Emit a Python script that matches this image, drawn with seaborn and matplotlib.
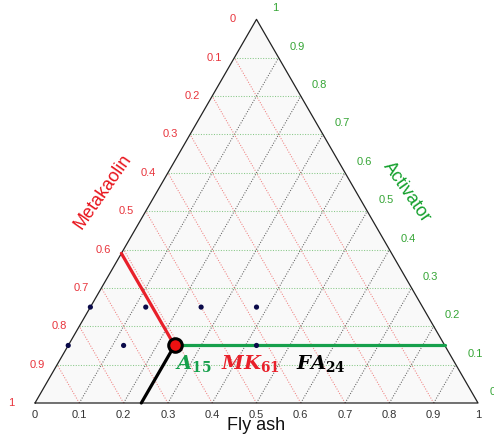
import numpy as np
import pandas as pd
import matplotlib
matplotlib.use("Agg")
import matplotlib.pyplot as plt
import seaborn as sns

# ---- data ----
ticks = [0.0, 0.1, 0.2, 0.3, 0.4, 0.5, 0.6, 0.7, 0.8, 0.9, 1.0]
tick_labels = ["0", "0.1", "0.2", "0.3", "0.4", "0.5", "0.6", "0.7", "0.8", "0.9", "1"]
pts_flyash = [0.0, 0.125, 0.25, 0.375, 0.0, 0.125, 0.425]
pts_activator = [0.25, 0.25, 0.25, 0.25, 0.15, 0.15, 0.15]
mix_flyash = 0.24
mix_activator = 0.15
mix_metakaolin = 0.61
mix_labels = [r"$A_{15}$", r"$MK_{61}$", r"$FA_{24}$"]

RED = "#e8202a"
GREEN = "#16a04c"
TRED = "#e8343c"
TGREEN = "#35a535"

sns.set_style("white")
plt.rcParams["font.family"] = ["Liberation Sans", "DejaVu Sans"]
plt.rcParams["mathtext.fontset"] = "custom"
plt.rcParams["mathtext.it"] = "DejaVu Serif:italic:bold"
plt.rcParams["mathtext.rm"] = "DejaVu Serif:bold"
plt.rcParams["mathtext.bf"] = "DejaVu Serif:bold"

H = np.sqrt(3) / 2


def tern(fa, a):
    fa = np.asarray(fa, dtype=float)
    a = np.asarray(a, dtype=float)
    return fa + a / 2, a * H


fig = plt.figure(figsize=(4.94, 4.41), dpi=100)
ax = fig.add_axes([0, 0, 1, 1])
ax.set_xlim(-35 / 443, 459 / 443)
ax.set_ylim(-38 / 443, 403 / 443)
ax.axis("off")

# triangle background + outline
ax.fill([0, 1, 0.5], [0, 0, H], color="#f9f9f9", zorder=0, lw=0)
ax.plot([0, 1, 0.5, 0], [0, 0, H, 0], color="#222222", lw=0.9, zorder=3)

# grid
for c in ticks[1:-1]:
    # activator constant (horizontal)
    x, y = tern([0, 1 - c], [c, c])
    ax.plot(x, y, color="#88c888", lw=0.75, ls=(0, (1, 1.5)), zorder=1)
    # metakaolin constant: FA + A = 1 - c
    x, y = tern([1 - c, 0], [0, 1 - c])
    ax.plot(x, y, color="#f08080", lw=0.75, ls=(0, (1, 1.5)), zorder=1)
    # fly ash constant
    x, y = tern([c, c], [0, 1 - c])
    ax.plot(x, y, color="#606060", lw=0.75, ls=(0, (1, 1.5)), zorder=1)

# tick labels
px = 1 / 443
for c, lab in zip(ticks, tick_labels):
    # fly ash (bottom)
    x, y = tern(c, 0)
    ax.text(x, y - 12 * px, lab, color="#333333", fontsize=8, ha="center", va="center")
    # metakaolin (left): FA = 0, A = 1 - c
    x, y = tern(0, 1 - c)
    off = 24 if c in (0.0, 1.0) else 20
    ax.text(x - off * px, y, lab, color=TRED, fontsize=8, ha="center", va="center")
    # activator (right): FA = 1 - c, A = c
    x, y = tern(1 - c, c)
    offx = 15 if c == 0.0 else 19
    ax.text(x + offx * px, y + 11 * px, lab, color=TGREEN, fontsize=8, ha="center", va="center")

# axis titles
ax.text((103 - 35) * px, (403 - 192) * px, "Metakaolin", color="#e8141c", fontsize=13,
        rotation=55, ha="center", va="center", rotation_mode="anchor")
ax.text((407 - 35) * px, (403 - 192) * px, "Activator", color="#13a02c", fontsize=13,
        rotation=-55, ha="center", va="center", rotation_mode="anchor")
ax.text(0.5, -23 * px, "Fly ash", color="#111111", fontsize=13, ha="center", va="center")

# data points
xs, ys = tern(pts_flyash, pts_activator)
df = pd.DataFrame({"x": xs, "y": ys})
sns.scatterplot(data=df, x="x", y="y", color="#0a0a4a", s=14, edgecolor="none",
                ax=ax, zorder=6, legend=False)

# composition guide lines
mx, my = tern(mix_flyash, mix_activator)
ex, ey = tern(0, mix_flyash + mix_activator)  # metakaolin constant to left edge
sns.lineplot(x=[mx, ex], y=[my, ey], sort=False, color=RED, lw=2.3, ax=ax, zorder=5)
ex, ey = tern(1 - mix_activator, mix_activator)  # activator constant to right edge
sns.lineplot(x=[mx, ex], y=[my, ey], sort=False, color=GREEN, lw=2.3, ax=ax, zorder=5)
ex, ey = tern(mix_flyash, 0)  # fly ash constant to bottom
sns.lineplot(x=[mx, ex], y=[my, ey], sort=False, color="#000000", lw=2.3, ax=ax, zorder=5)

mdf = pd.DataFrame({"x": [mx], "y": [my]})
sns.scatterplot(data=mdf, x="x", y="y", color="#ee1111", s=95, edgecolor="black",
                linewidth=2.2, ax=ax, zorder=8, legend=False)

# labels
base_y = (403 - 369) * px
ax.text((175 - 35) * px, base_y, mix_labels[0], color=GREEN, fontsize=14, ha="left", va="baseline", zorder=9)
ax.text((221 - 35) * px, base_y, mix_labels[1], color=RED, fontsize=14, ha="left", va="baseline", zorder=9)
ax.text((296 - 35) * px, base_y, mix_labels[2], color="#000000", fontsize=14, ha="left", va="baseline", zorder=9)

ax.set_xlabel("")
ax.set_ylabel("")
fig.savefig("out.png", dpi=100, facecolor="white")
